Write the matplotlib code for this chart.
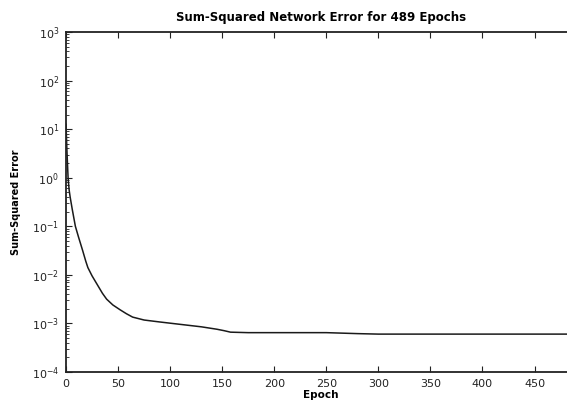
import matplotlib
matplotlib.use("Agg")
import matplotlib.pyplot as plt
import numpy as np

# epochs and sum-squared error (log-scale curve)
epochs = [0, 1, 2, 3, 4, 6, 9, 12, 16, 19, 21, 25, 30, 35, 39, 45, 52,
          58, 64, 75, 90, 110, 130, 145, 152, 158, 175, 200, 250, 280,
          300, 400, 489]
log_err = [1.1, 0.5, 0.0, -0.25, -0.4, -0.65, -1.0, -1.22, -1.5, -1.72,
           -1.85, -2.02, -2.2, -2.38, -2.5, -2.62, -2.72, -2.8, -2.87,
           -2.93, -2.97, -3.02, -3.07, -3.12, -3.15, -3.18, -3.19, -3.19,
           -3.19, -3.21, -3.22, -3.22, -3.22]
sse = 10.0 ** np.array(log_err)

x_ticks = [0, 50, 100, 150, 200, 250, 300, 350, 400, 450]

plt.rcParams['font.family'] = ['DejaVu Sans']

fig = plt.figure(figsize=(5.67, 4.05), dpi=100)
ax = fig.add_axes([0.1164, 0.0815, 0.898, 0.8395])

ax.semilogy(epochs, sse, color='#1a1a1a', lw=1.1)
ax.set_xlim(0, 489)
ax.set_ylim(1e-4, 1e3)
ax.set_xticks(x_ticks)
ax.set_yticks([10.0 ** k for k in range(-4, 4)])

ax.tick_params(which='both', direction='in', top=True, right=True,
               labelsize=8, colors='#222222')
ax.tick_params(which='major', length=4, width=0.8, pad=5)
ax.tick_params(which='minor', length=2, width=0.6)
for s in ax.spines.values():
    s.set_linewidth(1.3)
    s.set_color('#222222')

ax.set_title("Sum-Squared Network Error for 489 Epochs", fontsize=8.5,
             fontweight='bold', pad=8)
ax.set_xlabel("Epoch", fontsize=7.5, fontweight='bold', labelpad=1)
ax.set_ylabel("Sum-Squared Error", fontsize=7, fontweight='bold', labelpad=8)

fig.savefig("out.png", dpi=100)
